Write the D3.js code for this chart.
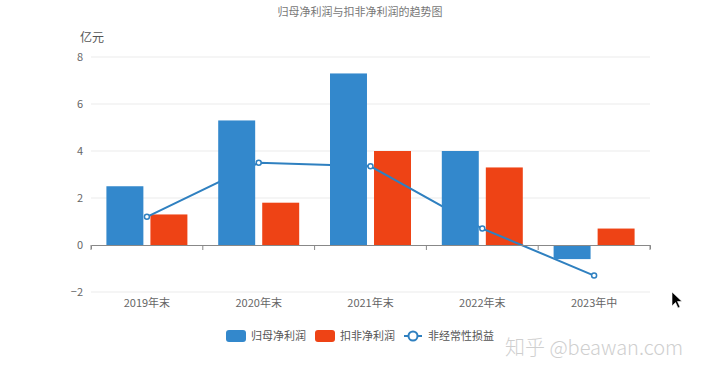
<!DOCTYPE html>
<html lang="zh">
<head>
<meta charset="UTF-8">
<title>归母净利润与扣非净利润的趋势图</title>
<style>
  * { margin: 0; padding: 0; }
  body { width: 720px; height: 376px; background: #fff; overflow: hidden; }
  svg { font-family: "Noto Sans CJK SC", "Microsoft YaHei", sans-serif; }
</style>
</head>
<body>
<svg id="chart"></svg>
<script src="https://cdn.jsdelivr.net/npm/d3@7"></script>
<script>
const categories = ['2019年末', '2020年末', '2021年末', '2022年末', '2023年中'];
const parentProfit = [2.5, 5.3, 7.3, 4.0, -0.6];   // 归母净利润
const deductedProfit = [1.3, 1.8, 4.0, 3.3, 0.7];  // 扣非净利润
const nonRecurring = [1.2, 3.5, 3.35, 0.7, -1.3];  // 非经常性损益
const yTicks = [-2, 0, 2, 4, 6, 8];

const W = 720, H = 376;
const plot = { left: 91, right: 650, top: 57, bottom: 292 };
const blue = '#3388cc', red = '#ee4315', lineColor = '#2f80c0';

const svg = d3.select('#chart').attr('width', W).attr('height', H);

const x = d3.scaleBand().domain(categories).range([plot.left, plot.right]);
const y = d3.scaleLinear().domain([-2, 8]).range([plot.bottom, plot.top]);
const inner = d3.scaleBand().domain(['a', 'b']).range([0, x.bandwidth()])
  .paddingInner(0.16).paddingOuter(0.35);

svg.append('text').attr('x', 360).attr('y', 16).attr('text-anchor', 'middle')
  .attr('font-size', 11).attr('fill', '#777').text('归母净利润与扣非净利润的趋势图');

svg.append('text').attr('x', 80).attr('y', 42)
  .attr('font-size', 12).attr('fill', '#555').text('亿元');

// grid
svg.append('g').selectAll('line').data(yTicks.filter(d => d !== 0)).join('line')
  .attr('x1', plot.left).attr('x2', plot.right)
  .attr('y1', d => y(d)).attr('y2', d => y(d))
  .attr('stroke', '#ebebeb');

const yAxis = svg.append('g').attr('transform', `translate(${plot.left},0)`)
  .call(d3.axisLeft(y).tickValues(yTicks).tickSize(0).tickPadding(8));
yAxis.select('.domain').remove();
yAxis.selectAll('text').attr('font-size', 11).attr('fill', '#666')
  .attr('font-family', '"Noto Sans CJK SC", sans-serif');

// red bars under line, blue bars above
const rect = (data, key, color) => svg.append('g').selectAll('rect').data(data).join('rect')
  .attr('x', (d, i) => x(categories[i]) + inner(key))
  .attr('width', inner.bandwidth())
  .attr('y', d => y(Math.max(0, d)))
  .attr('height', d => Math.abs(y(d) - y(0)))
  .attr('fill', color);

rect(deductedProfit, 'b', red);

const line = d3.line().x((d, i) => x(categories[i]) + x.bandwidth() / 2).y(d => y(d));
svg.append('path').datum(nonRecurring).attr('d', line)
  .attr('fill', 'none').attr('stroke', lineColor).attr('stroke-width', 2);
svg.append('g').selectAll('circle').data(nonRecurring).join('circle')
  .attr('cx', (d, i) => x(categories[i]) + x.bandwidth() / 2).attr('cy', d => y(d))
  .attr('r', 2.5).attr('fill', '#fff').attr('stroke', lineColor).attr('stroke-width', 1.5);

rect(parentProfit, 'a', blue);

// x axis at zero
const xAxis = svg.append('g').attr('transform', `translate(0,${y(0)})`)
  .call(d3.axisBottom(x).tickSize(4).tickSizeOuter(4).tickFormat(''));
xAxis.selectAll('line, path').attr('stroke', '#888');
xAxis.selectAll('.tick').remove();
xAxis.selectAll('.edge').data(d3.range(categories.length + 1)).join('line')
  .attr('x1', i => plot.left + i * x.step()).attr('x2', i => plot.left + i * x.step())
  .attr('y1', 0).attr('y2', 5).attr('stroke', '#888');

svg.append('g').selectAll('text').data(categories).join('text')
  .attr('x', d => x(d) + x.bandwidth() / 2).attr('y', plot.bottom + 15)
  .attr('text-anchor', 'middle').attr('font-size', 11).attr('fill', '#666').text(d => d);

// legend
const legend = svg.append('g').attr('font-size', 11).attr('fill', '#555');
legend.append('rect').attr('x', 226).attr('y', 330).attr('width', 20).attr('height', 12).attr('rx', 3).attr('fill', blue);
legend.append('text').attr('x', 251).attr('y', 340).attr('fill', '#555').text('归母净利润');
legend.append('rect').attr('x', 315).attr('y', 330).attr('width', 20).attr('height', 12).attr('rx', 3).attr('fill', red);
legend.append('text').attr('x', 340).attr('y', 340).attr('fill', '#555').text('扣非净利润');
legend.append('line').attr('x1', 404).attr('x2', 422).attr('y1', 336).attr('y2', 336).attr('stroke', lineColor).attr('stroke-width', 2);
legend.append('circle').attr('cx', 413).attr('cy', 336).attr('r', 4.5).attr('fill', '#fff').attr('stroke', lineColor).attr('stroke-width', 2);
legend.append('text').attr('x', 428).attr('y', 340).attr('fill', '#555').text('非经常性损益');

// watermark
svg.append('text').attr('x', 505).attr('y', 355).attr('font-size', 20).attr('fill', '#cfcfcf')
  .attr('font-family', '"Noto Sans CJK SC", sans-serif').attr('font-weight', 300).text('知乎 @beawan.com');

// mouse cursor
svg.append('path').attr('d', 'M672,292 L672,306 L675.5,302.5 L678,308 L680,307 L677.5,301.5 L682,301.5 Z')
  .attr('fill', '#000').attr('stroke', '#fff').attr('stroke-width', 0.6);
</script>
</body>
</html>
